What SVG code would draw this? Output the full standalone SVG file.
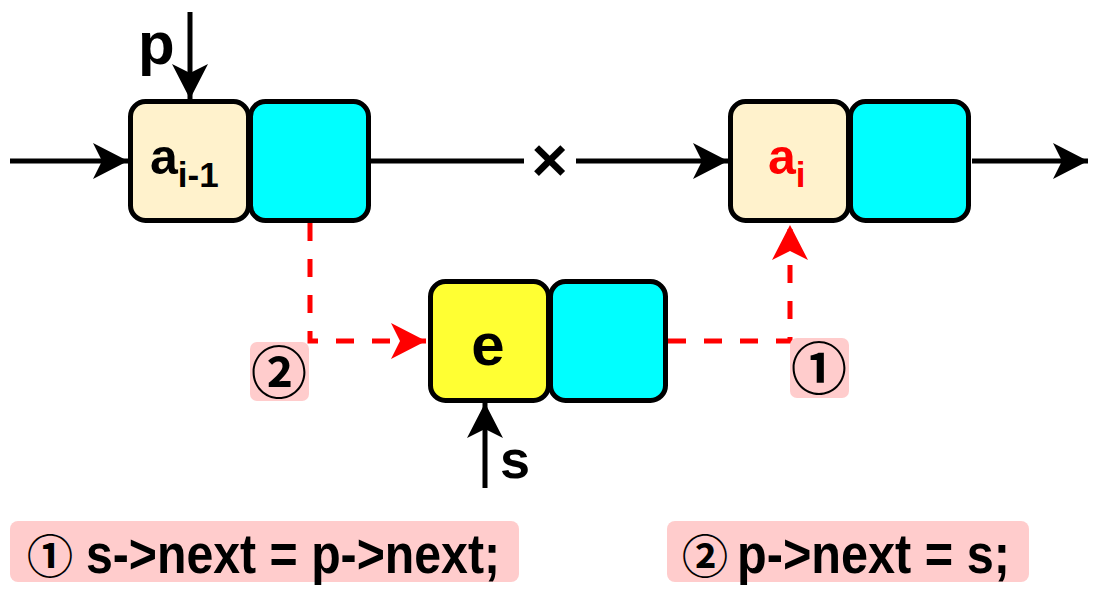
<svg xmlns="http://www.w3.org/2000/svg" width="1098" height="592" viewBox="0 0 1098 592">
<style>
.data{fill:#FFF2CC;stroke:#000;stroke-width:5}
.yel{fill:#FFFF33;stroke:#000;stroke-width:5}
.ptr{fill:#00FFFF;stroke:#000;stroke-width:5}
.blk{stroke:#000;stroke-width:5;fill:none}
.red{stroke:#FF0000;stroke-width:5;fill:none;stroke-dasharray:18 18}
.lbl{fill:#FFCCCC}
.t{font-family:"Liberation Sans",Arial,sans-serif;font-weight:bold;fill:#000}
.c{font-family:"Noto Sans CJK SC","DejaVu Sans",sans-serif;font-weight:bold;fill:#000}
</style>
<defs>
<marker id="ab" viewBox="-36 -19 37 38" refX="0" refY="0" markerWidth="37" markerHeight="38" markerUnits="userSpaceOnUse" orient="auto">
<path d="M0,0 L-35,-18 L-26,0 L-35,18 Z" fill="#000"/>
</marker>
<marker id="ar" viewBox="-36 -19 37 38" refX="0" refY="0" markerWidth="37" markerHeight="38" markerUnits="userSpaceOnUse" orient="auto">
<path d="M0,0 L-35,-18 L-26,0 L-35,18 Z" fill="#FF0000"/>
</marker>
</defs>
<rect width="1098" height="592" fill="#fff"/>
<g id="connectors">
<line class="blk" x1="10" y1="161" x2="128" y2="161" marker-end="url(#ab)"/>
<line class="blk" x1="190" y1="12" x2="190" y2="99" marker-end="url(#ab)"/>
<line class="blk" x1="371" y1="161" x2="524" y2="161"/>
<line class="blk" x1="576" y1="161" x2="728" y2="161" marker-end="url(#ab)"/>
<line class="blk" x1="972" y1="161" x2="1088" y2="161" marker-end="url(#ab)"/>
<line class="blk" x1="485" y1="488" x2="485" y2="403" marker-end="url(#ab)"/>
<polyline class="red" points="310,223 310,341 426,341" marker-end="url(#ar)"/>
<polyline class="red" points="668,341 790,341 790,225" marker-end="url(#ar)"/>
<text class="t" x="549.5" y="181" font-size="62" text-anchor="middle">×</text>
</g>
<g id="node-ai-1">
<rect class="data" x="130.5" y="101.5" width="118" height="119" rx="15"/>
<rect class="ptr" x="250.5" y="101.5" width="118" height="119" rx="15"/>
<text class="t" x="150" y="174" font-size="50">a<tspan font-size="35" dy="13">i-1</tspan></text>
</g>
<g id="node-ai">
<rect class="data" x="730.5" y="101.5" width="118" height="119" rx="15"/>
<rect class="ptr" x="850.5" y="101.5" width="118" height="119" rx="15"/>
<text class="t" x="768" y="174" font-size="50" style="fill:#FF0000">a<tspan font-size="35" dy="13">i</tspan></text>
</g>
<g id="node-e">
<rect class="yel" x="430.5" y="281.5" width="118" height="119" rx="15"/>
<rect class="ptr" x="550.5" y="281.5" width="115" height="119" rx="15"/>
<text class="t" x="488" y="365" font-size="60" text-anchor="middle">e</text>
</g>
<g id="label-p"><text class="t" x="138" y="64" font-size="60">p</text></g>
<g id="label-s"><text class="t" x="500" y="478" font-size="54">s</text></g>
<g id="label-step2">
<rect class="lbl" x="250" y="342" width="59" height="59" rx="7"/>
<text class="c" x="279" y="393" font-size="56" text-anchor="middle">②</text>
</g>
<g id="label-step1">
<rect class="lbl" x="790" y="338" width="59" height="60" rx="7"/>
<text class="c" x="819" y="389" font-size="56" text-anchor="middle">①</text>
</g>
<g id="code1">
<rect class="lbl" x="10" y="521" width="509" height="61" rx="8"/>
<text class="c" x="50" y="573" font-size="46" text-anchor="middle">①</text>
<text class="t" x="86" y="573" font-size="56" textLength="414" lengthAdjust="spacingAndGlyphs">s-&gt;next = p-&gt;next;</text>
</g>
<g id="code2">
<rect class="lbl" x="667" y="521" width="362" height="61" rx="8"/>
<text class="c" x="705" y="573" font-size="46" text-anchor="middle">②</text>
<text class="t" x="737" y="573" font-size="56" textLength="273" lengthAdjust="spacingAndGlyphs">p-&gt;next = s;</text>
</g>
</svg>
